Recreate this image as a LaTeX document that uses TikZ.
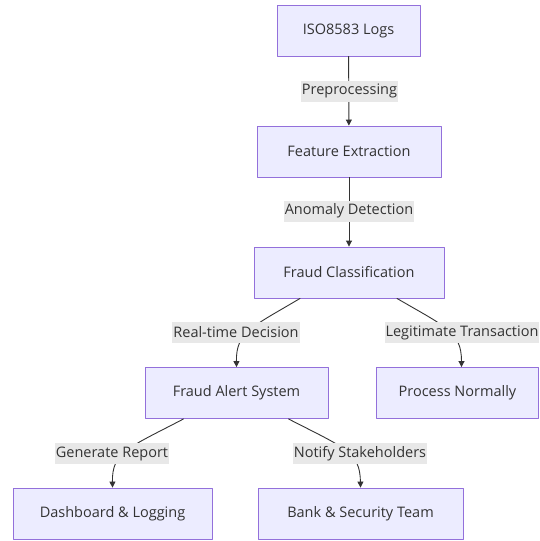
\documentclass[tikz,border=0pt]{standalone}
\usepackage{fontspec}
\setmainfont{Open Sans}
\usepackage{xcolor}
\usetikzlibrary{arrows.meta,calc}
\definecolor{boxfill}{HTML}{ECECFF}
\definecolor{boxline}{HTML}{9370DB}
\definecolor{edgeline}{HTML}{333333}
\definecolor{lblfill}{HTML}{E8E8E8}
\definecolor{txt}{HTML}{333333}
\begin{document}
\begin{tikzpicture}[x=1pt,y=-1pt,line cap=round,line join=round,
    stage/.style={draw=boxline,fill=boxfill,line width=0.9pt,minimum height=51pt,inner sep=0pt,text=txt,font=\fontsize{14.5}{17}\selectfont},
    lbl/.style={fill=lblfill,inner xsep=1pt,inner ysep=0pt,minimum height=21pt,text=txt,font=\fontsize{14.5}{17}\selectfont},
    flow/.style={draw=edgeline,line width=0.9pt,-{Triangle[length=6pt,width=6pt]}}]
                \useasboundingbox (0,0) rectangle (540,541);
                \node[stage,minimum width=143pt] (logs) at (348.5,30.5) {ISO8583 Logs};
                \node[stage,minimum width=184pt] (feat) at (349,151.5) {Feature Extraction};
                \node[stage,minimum width=190pt] (cls) at (349,272.5) {Fraud Classification};
                \node[stage,minimum width=183pt] (alert) at (236.5,393) {Fraud Alert System};
                \node[stage,minimum width=162pt] (normal) at (457.5,393) {Process Normally};
                \node[stage,minimum width=199pt] (dash) at (112.5,513.5) {Dashboard \& Logging};
                \node[stage,minimum width=205pt] (bank) at (360.5,513.5) {Bank \& Security Team};
                \draw[flow] (logs) -- (feat);
                \draw[flow] (feat) -- (cls);
                \draw[flow] ([xshift=-49pt]cls.south) .. controls (252,327) and (236,332) .. (alert.north);
                \draw[flow] ([xshift=48pt]cls.south) .. controls (446,327) and (461.5,332) .. ([xshift=4pt]normal.north);
                \draw[flow] ([xshift=-53pt]alert.south) .. controls (128,448) and (112,452) .. (dash.north);
                \draw[flow] ([xshift=52pt]alert.south) .. controls (345,448) and (360,452) .. (bank.north);
                \node[lbl] (pre) at (349.5,91) {Preprocessing};
                \node[lbl] (anom) at (349,211) {Anomaly Detection};
                \node[lbl] (rt) at (236,332.5) {Real-time Decision};
                \node[lbl] (legit) at (462,332.5) {Legitimate Transaction};
                \node[lbl] (rep) at (112,453.5) {Generate Report};
                \node[lbl] (notify) at (360,453.5) {Notify Stakeholders};
\end{tikzpicture}
\end{document}
